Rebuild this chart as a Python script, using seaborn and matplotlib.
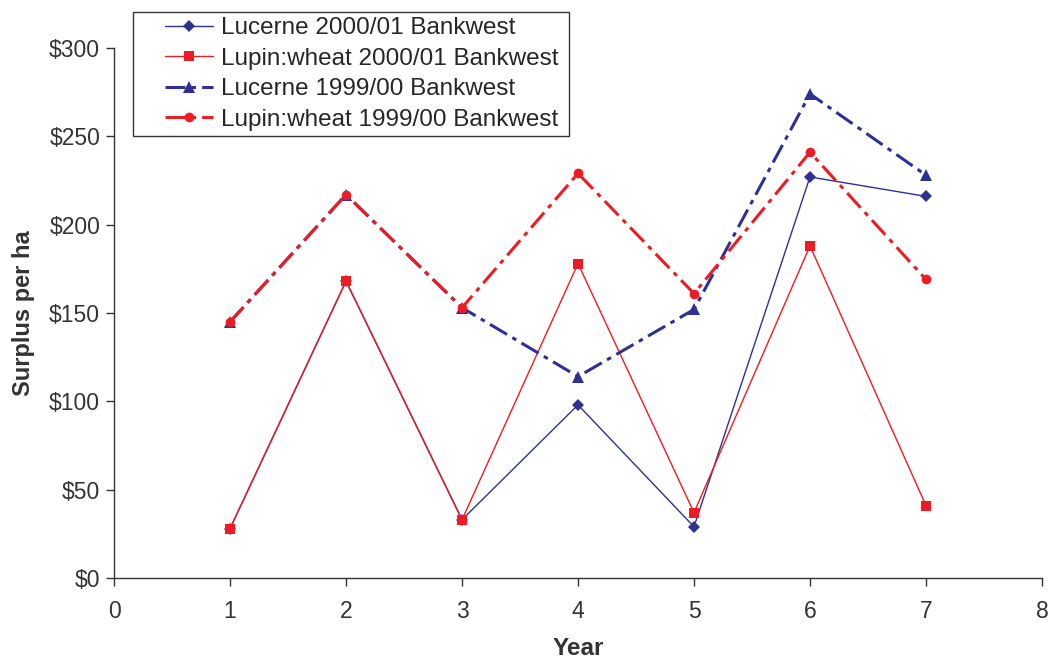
import matplotlib
matplotlib.use("Agg")
import matplotlib.pyplot as plt
from matplotlib.legend_handler import HandlerLine2D
from matplotlib.patches import Rectangle
import seaborn as sns
import pandas as pd

years = [1, 2, 3, 4, 5, 6, 7]
lucerne_0001 = [28, 168, 33, 98, 29, 227, 216]
lupin_0001 = [28, 168, 33, 178, 37, 188, 41]
lucerne_9900 = [145, 217, 153, 114, 152, 274, 228]
lupin_9900 = [145, 217, 153, 229, 161, 241, 169]

series_names = ["Lucerne 2000/01 Bankwest", "Lupin:wheat 2000/01 Bankwest",
                "Lucerne 1999/00 Bankwest", "Lupin:wheat 1999/00 Bankwest"]
series_vals = [lucerne_0001, lupin_0001, lucerne_9900, lupin_9900]

sns.set_theme(style="white")
plt.rcParams['font.family'] = ['Liberation Sans', 'DejaVu Sans']

fig = plt.figure(figsize=(10.49, 6.6), dpi=100)
ax = fig.add_axes([0.1087, 0.1242, 0.8846, 0.8031])

blue = "#2E3192"
red = "#ED1C24"
styles = [
    dict(color=blue, marker="D", markersize=6, linewidth=1.0, linestyle="-"),
    dict(color=red, marker="s", markersize=7, linewidth=1.0, linestyle="-"),
    dict(color=blue, marker="^", markersize=8, linewidth=2.2, dashes=(6.5, 2, 1.5, 2)),
    dict(color=red, marker="o", markersize=7, linewidth=2.2, dashes=(6.5, 2, 1.5, 2)),
]

for name, vals, st in zip(series_names, series_vals, styles):
    df = pd.DataFrame({"Year": years, "Surplus": vals})
    kw = dict(st)
    dashes = kw.pop("dashes", None)
    kw.pop("linestyle", None)
    sns.lineplot(data=df, x="Year", y="Surplus", ax=ax, label=name,
                 markeredgewidth=0, **kw)
    ln = ax.get_lines()[-1]
    if dashes is not None:
        ln.set_dashes(dashes)

ax.set_xlim(0, 8)
ax.set_ylim(0, 300)
ax.set_xticks(range(0, 9))
ax.set_yticks(range(0, 301, 50))
ax.set_yticklabels([f"${v}" for v in range(0, 301, 50)])
ax.tick_params(axis="both", labelsize=16.5, colors="#333333", direction="out",
               length=6, width=1, left=True, bottom=True, labelcolor="#333333")
ax.tick_params(axis="x", pad=10)
ax.tick_params(axis="y", pad=4)
for s in ["top", "right"]:
    ax.spines[s].set_visible(False)
for s in ["left", "bottom"]:
    ax.spines[s].set_color("#333333")
    ax.spines[s].set_linewidth(1)
ax.set_xlabel("Year", fontsize=17.5, fontweight="bold", color="#333333", labelpad=10)
ax.set_ylabel("Surplus per ha", fontsize=17, fontweight="bold", color="#333333", labelpad=10)

handles, labels = ax.get_legend_handles_labels()
ax.get_legend().remove()
fig.legend(handles, labels, loc="upper left", bbox_to_anchor=(143 / 1049, 1 - 17 / 660),
           borderaxespad=0, borderpad=0,
           fontsize=17.5, frameon=False,
           handlelength=2.9, labelspacing=0.35, handletextpad=0.3,
           handler_map={h: HandlerLine2D(xpad=0.9) for h in handles})
fig.patches.append(Rectangle((133 / 1049, 1 - 136 / 660), 436 / 1049, 124 / 660,
                             transform=fig.transFigure, fill=False,
                             edgecolor="#333333", linewidth=1, zorder=5))

fig.savefig("out.png", dpi=100)
